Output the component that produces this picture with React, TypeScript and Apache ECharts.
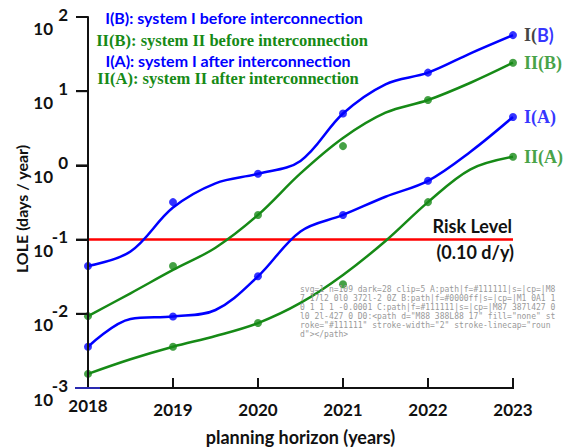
import React, { useEffect, useRef, useState } from "react";
import * as echarts from "echarts";

const years = [2018, 2019, 2020, 2021, 2022, 2023];
const yTicks = [0.001, 0.01, 0.1, 1, 10, 100];
// observed points (days/year)
const ibPoints = [0.044, 0.32, 0.77, 5.0, 17.8, 57];
const iibPoints = [0.0093, 0.044, 0.215, 1.82, 7.6, 24.2];
const iaPoints = [0.0036, 0.0092, 0.032, 0.215, 0.62, 4.5];
const iiaPoints = [0.00155, 0.0036, 0.0075, 0.025, 0.32, 1.31];
// fitted curves, read every half year
const curveYears = [2018, 2018.5, 2019, 2019.5, 2020, 2020.5, 2021, 2021.5, 2022, 2022.5, 2023];
const ibCurve = [0.044, 0.069, 0.27, 0.574, 0.77, 1.15, 5.0, 12.4, 17.8, 32.4, 57];
const iibCurve = [0.0093, 0.0189, 0.039, 0.0778, 0.215, 0.78, 2.34, 5.13, 7.6, 13.0, 24.2];
const iaCurve = [0.0036, 0.0085, 0.0092, 0.01125, 0.032, 0.129, 0.215, 0.378, 0.62, 1.53, 4.5];
const iiaCurve = [0.00155, 0.00244, 0.0036, 0.00502, 0.0075, 0.014, 0.0334, 0.0957, 0.32, 0.886, 1.31];
const riskLevel = 0.1;
const legendTexts = [
  "I(B): system I before interconnection",
  "II(B): system II before interconnection",
  "I(A): system I after interconnection",
  "II(A): system II after interconnection",
];

const BLUE = "#0000ff";
const GREEN = "#168a16";
const INK = "#111111";
const SANS = "Lato";
const SERIF = "Liberation Serif";

const pairs = (xs: number[], arr: number[]) => xs.map((y, i) => [y, arr[i]]);

export default function App() {
  const ref = useRef<HTMLDivElement>(null);
  const [diag, setDiag] = useState("");
  useEffect(() => {
    document.body.style.margin = "0";
    const chart = echarts.init(ref.current!, null, { renderer: "svg" });
    const xMin = years[0];
    const xMax = years[years.length - 1];
    const yMin = yTicks[0];
    const yMax = yTicks[yTicks.length - 1];
    const lineSeries = (name: string, data: number[], color: string) => ({
      name,
      type: "line",
      data: pairs(curveYears, data),
      smooth: 0.35,
      showSymbol: false,
      symbol: "none",
      clip: false,
      lineStyle: { color, width: 2.5 },
      z: 2,
    });
    const pointSeries = (
      name: string,
      data: number[],
      color: string,
      endText: string,
      rich: any
    ) => ({
      name,
      type: "scatter",
      data: pairs(years, data),
      symbolSize: 8,
      clip: false,
      itemStyle: { color },
      z: 4,
      label: {
        show: true,
        position: "right",
        distance: 7,
        formatter: (p: any) => (p.dataIndex === years.length - 1 ? endText : ""),
        rich,
      },
    });
    const serifLab = (color: string) => ({
      fontFamily: SERIF,
      fontWeight: "bold",
      fontSize: 18,
      color,
    });
    const axisLineStyle = { color: INK, width: 2 };
    chart.setOption({
      animation: false,
      grid: { left: 88, right: 51, top: 17, bottom: 59, outerBoundsMode: "none", containLabel: false },
      xAxis: {
        type: "value",
        min: xMin,
        max: xMax,
        interval: 1,
        name: "planning horizon (years)",
        nameLocation: "middle",
        nameGap: 40,
        nameTextStyle: { fontFamily: SANS, fontWeight: "bold", fontSize: 18, color: INK },
        axisLine: { show: true, onZero: false, lineStyle: axisLineStyle },
        axisTick: { show: true, inside: true, length: 10, lineStyle: axisLineStyle },
        splitLine: { show: false },
        axisLabel: {
          margin: 21,
          verticalAlign: "middle",
          formatter: (v: number) => (v === 2018 ? `{r|${v}}` : `{n|${v}}`),
          rich: {
            n: { fontFamily: SANS, fontWeight: "bold", fontSize: 17, color: INK },
            r: { fontFamily: SANS, fontWeight: "bold", fontSize: 17, color: INK, padding: [0, 0, 8, 0] },
          },
        },
      },
      yAxis: {
        type: "log",
        logBase: 10,
        min: yMin,
        max: yMax,
        axisLine: { show: true, onZero: false, lineStyle: axisLineStyle },
        axisTick: { show: true, inside: false, length: 12, lineStyle: axisLineStyle },
        splitLine: { show: false },
        axisLabel: {
          margin: 20,
          verticalAlign: "middle",
          padding: [8, 0, 0, 0],
          formatter: (v: number) => `{b|10}{s|${Math.round(Math.log10(v))}}`,
          rich: {
            b: { fontFamily: SANS, fontWeight: "bold", fontSize: 17, color: INK, verticalAlign: "bottom" },
            s: {
              fontFamily: SANS,
              fontWeight: "bold",
              fontSize: 17,
              color: INK,
              width: 15,
              align: "right",
              padding: [0, 0, 14, 0],
              verticalAlign: "top",
            },
          },
        },
      },
      series: [
        {
          name: "risk",
          type: "line",
          data: [
            [xMin, riskLevel],
            [xMax, riskLevel],
          ],
          symbol: "none",
          clip: false,
          lineStyle: { color: "#ff0000", width: 2.5 },
          z: 1,
        },
        lineSeries("I(B) curve", ibCurve, BLUE),
        lineSeries("II(B) curve", iibCurve, GREEN),
        lineSeries("I(A) curve", iaCurve, BLUE),
        lineSeries("II(A) curve", iiaCurve, GREEN),
        pointSeries("I(B)", ibPoints, BLUE, "{k|I(}{b|B)}", {
          k: serifLab(INK),
          b: { fontFamily: SANS, fontWeight: "bold", fontSize: 18, color: BLUE },
        }),
        pointSeries("II(B)", iibPoints, GREEN, "{g|II(B)}", { g: serifLab(GREEN) }),
        pointSeries("I(A)", iaPoints, BLUE, "{g|I(A)}", { g: serifLab(BLUE) }),
        pointSeries("II(A)", iiaPoints, GREEN, "{g|II(A)}", { g: serifLab(GREEN) }),
      ],
    });

    const px = (x: number, y: number) =>
      chart.convertToPixel({ xAxisIndex: 0, yAxisIndex: 0 }, [x, y]) as number[];
    const origin = px(xMin, yMin);
    const top = px(xMin, yMax);
    const right = px(xMax, yMin);
    const frame: any[] = [
      {
        type: "rect",
        shape: { x: origin[0] - 1, y: top[1], width: 2, height: origin[1] - top[1] + 1 },
        style: { fill: INK },
        z: 100,
      },
      {
        type: "rect",
        shape: { x: origin[0] - 1, y: origin[1] - 1, width: right[0] - origin[0] + 2, height: 2 },
        style: { fill: INK },
        z: 100,
      },
      ...years.map((yr) => {
        const p = px(yr, yMin);
        return { type: "rect", shape: { x: p[0] - 1, y: p[1] - 10, width: 2, height: 10 }, style: { fill: INK }, z: 100 };
      }),
      ...yTicks.map((v) => {
        const p = px(xMin, v);
        return { type: "rect", shape: { x: p[0] - 12, y: p[1] - 1, width: 12, height: 2 }, style: { fill: INK }, z: 100 };
      }),
      {
        type: "rect",
        shape: { x: origin[0] - 13, y: origin[1] - 1, width: 25, height: 2 },
        style: { fill: "#2a2ab0" },
        z: 101,
      },
    ];
    const txt = (text: string, x: number, y: number, fill: string, font: string, align = "center", rot = 0) => ({
      type: "text",
      x,
      y,
      rotation: rot,
      style: { text, fill, font, textAlign: align, textVerticalAlign: "middle" },
    });
    const texts: any[] = [
      txt("LOLE (days / year)", 21, 209, INK, `bold 16px ${SANS}`, "center", Math.PI / 2),
      txt(legendTexts[0], 234, 17, BLUE, `bold 16px ${SANS}`),
      txt(legendTexts[1], 232, 40, GREEN, `bold 16.5px "${SERIF}"`),
      txt(legendTexts[2], 228, 60, BLUE, `bold 16px ${SANS}`),
      txt(legendTexts[3], 228, 78, GREEN, `bold 16.5px "${SERIF}"`),
      txt("Risk Level", 512, 226, INK, `bold 18px ${SANS}`, "right"),
      txt("(0.10 d/y)", 514, 252, INK, `bold 18px ${SANS}`, "right"),
    ];
    chart.setOption({ graphic: [...frame, ...texts] });

    // temporary diagnostic: what sits on top of the axis position
    const timer = window.setTimeout(() => {
      const desc = (e: Element | null) =>
        e
          ? `${e.tagName}|f=${e.getAttribute("fill") || ""}|s=${e.getAttribute("stroke") || ""}|cp=${
              e.getAttribute("clip-path") || ""
            }|${(e.getAttribute("d") || "").slice(0, 24)}`
          : "null";
      const root = ref.current!;
      const all = Array.from(root.querySelectorAll("*"));
      const dark = all.filter(
        (e) =>
          e.tagName === "path" &&
          /17,\s*17,\s*17|#111/i.test((e.getAttribute("fill") || "") + (e.getAttribute("stroke") || ""))
      );
      const clipped = all.filter((e) => e.getAttribute("clip-path"));
      const msg =
        `svg=${document.querySelectorAll("svg").length} n=${all.length} dark=${dark.length} clip=${clipped.length} ` +
        `A:${desc(document.elementFromPoint(88, 300))} B:${desc(document.elementFromPoint(85, 266))} ` +
        `C:${desc(document.elementFromPoint(300, 388))} D0:${dark[0] ? dark[0].outerHTML.slice(0, 110) : ""}`;
      setDiag(msg);
    }, 60);
    return () => {
      window.clearTimeout(timer);
      chart.dispose();
    };
  }, []);
  return (
    <div style={{ position: "relative", width: 564, height: 447 }}>
      <div ref={ref} style={{ width: 564, height: 447 }} />
      <div
        style={{
          position: "absolute",
          left: 300,
          top: 285,
          width: 260,
          fontSize: 8,
          lineHeight: "9px",
          color: "#999",
          fontFamily: "DejaVu Sans Mono",
          wordBreak: "break-all",
          pointerEvents: "none",
        }}
      >
        {diag}
      </div>
    </div>
  );
}
